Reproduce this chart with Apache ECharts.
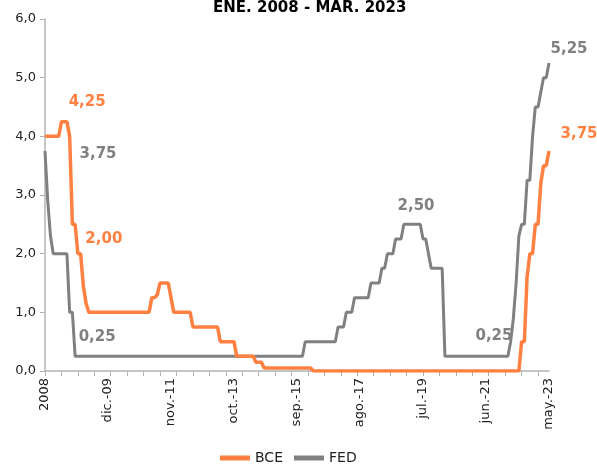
<!DOCTYPE html>
<html>
<head>
<meta charset="utf-8">
<script src="https://cdn.jsdelivr.net/npm/echarts@6/dist/echarts.min.js"></script>
<style>
  html, body { margin: 0; padding: 0; background: #fff; }
  #chart { width: 597px; height: 464px; }
</style>
</head>
<body>
<div id="chart"></div>
<script>
// monthly, ene. 2008 .. may. 2023 (185 months)
var monthNames = ['ene.', 'feb.', 'mar.', 'abr.', 'may.', 'jun.', 'jul.', 'ago.', 'sep.', 'oct.', 'nov.', 'dic.'];
var firstYear = 2008;
var monthCount = 185;

var bce = [
  4.0, 4.0, 4.0, 4.0, 4.0, 4.0, 4.25, 4.25, 4.25, 4.0, 2.5, 2.5,
  2.0, 2.0, 1.45, 1.15, 1.0, 1.0, 1.0, 1.0, 1.0, 1.0, 1.0, 1.0,
  1.0, 1.0, 1.0, 1.0, 1.0, 1.0, 1.0, 1.0, 1.0, 1.0, 1.0, 1.0,
  1.0, 1.0, 1.0, 1.25, 1.25, 1.3, 1.5, 1.5, 1.5, 1.5, 1.25, 1.0,
  1.0, 1.0, 1.0, 1.0, 1.0, 1.0, 0.75, 0.75, 0.75, 0.75, 0.75, 0.75,
  0.75, 0.75, 0.75, 0.75, 0.5, 0.5, 0.5, 0.5, 0.5, 0.5, 0.25, 0.25,
  0.25, 0.25, 0.25, 0.25, 0.25, 0.15, 0.15, 0.15, 0.05, 0.05, 0.05, 0.05,
  0.05, 0.05, 0.05, 0.05, 0.05, 0.05, 0.05, 0.05, 0.05, 0.05, 0.05, 0.05,
  0.05, 0.05, 0, 0, 0, 0, 0, 0, 0, 0, 0, 0,
  0, 0, 0, 0, 0, 0, 0, 0, 0, 0, 0, 0,
  0, 0, 0, 0, 0, 0, 0, 0, 0, 0, 0, 0,
  0, 0, 0, 0, 0, 0, 0, 0, 0, 0, 0, 0,
  0, 0, 0, 0, 0, 0, 0, 0, 0, 0, 0, 0,
  0, 0, 0, 0, 0, 0, 0, 0, 0, 0, 0, 0,
  0, 0, 0, 0, 0, 0, 0.5, 0.5, 1.6, 2.0, 2.0, 2.5,
  2.5, 3.2, 3.5, 3.5, 3.75
];

var fed = [
  3.75, 2.9, 2.3, 2.0, 2.0, 2.0, 2.0, 2.0, 2.0, 1.0, 1.0, 0.25,
  0.25, 0.25, 0.25, 0.25, 0.25, 0.25, 0.25, 0.25, 0.25, 0.25, 0.25, 0.25,
  0.25, 0.25, 0.25, 0.25, 0.25, 0.25, 0.25, 0.25, 0.25, 0.25, 0.25, 0.25,
  0.25, 0.25, 0.25, 0.25, 0.25, 0.25, 0.25, 0.25, 0.25, 0.25, 0.25, 0.25,
  0.25, 0.25, 0.25, 0.25, 0.25, 0.25, 0.25, 0.25, 0.25, 0.25, 0.25, 0.25,
  0.25, 0.25, 0.25, 0.25, 0.25, 0.25, 0.25, 0.25, 0.25, 0.25, 0.25, 0.25,
  0.25, 0.25, 0.25, 0.25, 0.25, 0.25, 0.25, 0.25, 0.25, 0.25, 0.25, 0.25,
  0.25, 0.25, 0.25, 0.25, 0.25, 0.25, 0.25, 0.25, 0.25, 0.25, 0.25, 0.5,
  0.5, 0.5, 0.5, 0.5, 0.5, 0.5, 0.5, 0.5, 0.5, 0.5, 0.5, 0.75,
  0.75, 0.75, 1.0, 1.0, 1.0, 1.25, 1.25, 1.25, 1.25, 1.25, 1.25, 1.5,
  1.5, 1.5, 1.5, 1.75, 1.75, 2.0, 2.0, 2.0, 2.25, 2.25, 2.25, 2.5,
  2.5, 2.5, 2.5, 2.5, 2.5, 2.5, 2.25, 2.25, 2.0, 1.75, 1.75, 1.75,
  1.75, 1.75, 0.25, 0.25, 0.25, 0.25, 0.25, 0.25, 0.25, 0.25, 0.25, 0.25,
  0.25, 0.25, 0.25, 0.25, 0.25, 0.25, 0.25, 0.25, 0.25, 0.25, 0.25, 0.25,
  0.25, 0.25, 0.5, 0.9, 1.5, 2.3, 2.5, 2.5, 3.25, 3.25, 4.0, 4.5,
  4.5, 4.75, 5.0, 5.0, 5.25
];

var yTicks = [0, 1, 2, 3, 4, 5, 6];

var months = [];
for (var i = 0; i < monthCount; i++) {
  var yy = firstYear + Math.floor(i / 12);
  months.push(monthNames[i % 12] + '-' + String(yy).slice(2));
}

var orange = '#ff8040';
var grey = '#808080';
var font = 'DejaVu Sans, Verdana, sans-serif';

function comma(v, d) {
  return v.toFixed(d).replace('.', ',');
}

// value labels next to the lines
function note(series, idx, dx, dy) {
  return {
    coord: [months[idx], series[idx]],
    label: { formatter: comma(series[idx], 2), offset: [dx, dy] }
  };
}

var chartDom = document.getElementById('chart');
var myChart = echarts.init(chartDom);

var markBase = {
  symbol: 'circle',
  symbolSize: 1,
  itemStyle: { color: 'rgba(0,0,0,0)' },
  animation: false
};

var option = {
  animation: false,
  title: {
    text: 'ENE. 2008 - MAR. 2023',
    left: 208,
    top: -4,
    textStyle: { fontFamily: font, fontSize: 15, fontWeight: 'bold', color: '#000' }
  },
  grid: { left: 45, right: 48, top: 19, bottom: 93 },
  legend: {
    left: 215,
    top: 446,
    itemWidth: 30,
    itemHeight: 14,
    itemGap: 11,
    icon: 'path://M0,0 L30,0 L30,5 L0,5 Z',
    textStyle: { fontFamily: font, fontSize: 14, color: '#222' },
    data: ['BCE', 'FED']
  },
  xAxis: {
    type: 'category',
    boundaryGap: false,
    data: months,
    axisLine: { lineStyle: { color: '#b3b3b3', width: 1.5 } },
    axisTick: { interval: 5, length: 5, lineStyle: { color: '#b3b3b3' } },
    axisLabel: {
      interval: 22,
      rotate: 90,
      margin: 7,
      fontFamily: font,
      fontSize: 13,
      color: '#222',
      formatter: function (v, i) { return i === 0 ? String(firstYear) : v; }
    },
    splitLine: { show: false }
  },
  yAxis: {
    type: 'value',
    min: yTicks[0],
    max: yTicks[yTicks.length - 1],
    interval: 1,
    axisLine: { show: true, lineStyle: { color: '#b3b3b3', width: 1.5 } },
    axisTick: { show: true, length: 5, lineStyle: { color: '#b3b3b3' } },
    axisLabel: {
      margin: 9,
      fontFamily: font,
      fontSize: 13,
      color: '#222',
      formatter: function (v) { return comma(v, 1); }
    },
    splitLine: { show: false }
  },
  series: [
    {
      name: 'BCE',
      type: 'line',
      data: bce,
      symbol: 'none',
      z: 3,
      itemStyle: { color: orange },
      lineStyle: { color: orange, width: 3.5 },
      markPoint: Object.assign({}, markBase, {
        label: { show: true, position: 'inside', color: orange, fontFamily: font, fontSize: 15, fontWeight: 'bold' },
        data: [
          note(bce, 7, 23, -20),
          note(bce, 12, 26, -15),
          note(bce, 184, 30, -17)
        ]
      })
    },
    {
      name: 'FED',
      type: 'line',
      data: fed,
      symbol: 'none',
      z: 2,
      itemStyle: { color: grey },
      lineStyle: { color: grey, width: 3 },
      markPoint: Object.assign({}, markBase, {
        label: { show: true, position: 'inside', color: grey, fontFamily: font, fontSize: 15, fontWeight: 'bold' },
        data: [
          note(fed, 0, 53, 3),
          note(fed, 11, 22, -19),
          note(fed, 134, 4, -18),
          note(fed, 165, -3, -20),
          note(fed, 184, 20, -14)
        ]
      })
    }
  ]
};

option && myChart.setOption(option);
</script>
</body>
</html>
